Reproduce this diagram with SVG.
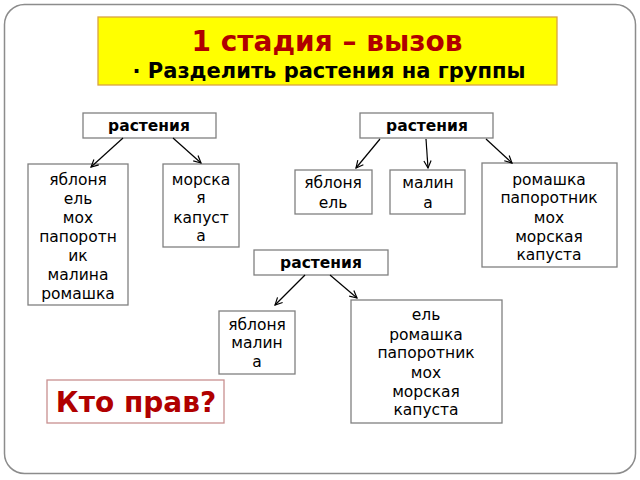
<svg xmlns="http://www.w3.org/2000/svg" width="640" height="480" viewBox="0 0 640 480">
<style>
.box{fill:#fff;stroke:#808080;stroke-width:1.3}
.t{font-family:"DejaVu Sans",sans-serif;font-size:15.5px;fill:#000;text-anchor:middle}
.h{font-family:"DejaVu Sans",sans-serif;font-size:15.5px;font-weight:bold;fill:#000;text-anchor:middle}
.c line{stroke:#000;stroke-width:1.2;marker-end:url(#a)}
</style>
<defs>
<marker id="a" viewBox="0 0 10 10" refX="9" refY="5" markerWidth="9" markerHeight="9" orient="auto" markerUnits="userSpaceOnUse">
<path d="M1,1 L9,5 L1,9" fill="none" stroke="#000" stroke-width="1.3"/>
</marker>
</defs>
<rect x="0" y="0" width="640" height="480" fill="#fff"/>
<rect x="4.5" y="4.5" width="631" height="469" rx="20" fill="none" stroke="#8c8c8c" stroke-width="1.5"/>
<g id="title">
<rect x="98" y="17" width="459" height="68" fill="#ffff00" stroke="#d9a441" stroke-width="1.3"/>
<text x="327" y="51" font-family="DejaVu Sans,sans-serif" font-size="28" font-weight="bold" fill="#b00000" text-anchor="middle">1 стадия – вызов</text>
<text x="329" y="78" font-family="DejaVu Sans,sans-serif" font-size="21" font-weight="bold" fill="#000" text-anchor="middle">· Разделить растения на группы</text>
</g>
<g id="r1"><rect class="box" x="83" y="113" width="133" height="25"/><text class="h" x="149" y="131">растения</text></g>
<g id="r2"><rect class="box" x="360" y="113" width="133" height="25"/><text class="h" x="427" y="131">растения</text></g>
<g id="r3"><rect class="box" x="254" y="250" width="134" height="25"/><text class="h" x="321" y="268">растения</text></g>
<g id="n1"><rect class="box" x="28" y="164" width="100" height="141"/>
<text class="t"><tspan x="78" y="185">яблоня</tspan><tspan x="78" y="204">ель</tspan><tspan x="78" y="223">мох</tspan><tspan x="78" y="242">папоротн</tspan><tspan x="78" y="261">ик</tspan><tspan x="78" y="280">малина</tspan><tspan x="78" y="299">ромашка</tspan></text></g>
<g id="n2"><rect class="box" x="163" y="164" width="76" height="83"/>
<text class="t"><tspan x="201" y="185">морска</tspan><tspan x="201" y="203">я</tspan><tspan x="201" y="223">капуст</tspan><tspan x="201" y="241">а</tspan></text></g>
<g id="n3"><rect class="box" x="295" y="170" width="77" height="44"/>
<text class="t"><tspan x="333" y="188">яблоня</tspan><tspan x="333" y="208">ель</tspan></text></g>
<g id="n4"><rect class="box" x="390" y="170" width="75" height="44"/>
<text class="t"><tspan x="428" y="188">малин</tspan><tspan x="428" y="208">а</tspan></text></g>
<g id="n5"><rect class="box" x="482" y="163" width="135" height="104"/>
<text class="t"><tspan x="549" y="185">ромашка</tspan><tspan x="549" y="203">папоротник</tspan><tspan x="549" y="223">мох</tspan><tspan x="549" y="242">морская</tspan><tspan x="549" y="260">капуста</tspan></text></g>
<g id="n6"><rect class="box" x="219" y="311" width="76" height="63"/>
<text class="t"><tspan x="257" y="330">яблоня</tspan><tspan x="257" y="348">малин</tspan><tspan x="257" y="367">а</tspan></text></g>
<g id="n7"><rect class="box" x="351" y="300" width="151" height="123"/>
<text class="t"><tspan x="426" y="320">ель</tspan><tspan x="426" y="340">ромашка</tspan><tspan x="426" y="358">папоротник</tspan><tspan x="426" y="378">мох</tspan><tspan x="426" y="397">морская</tspan><tspan x="426" y="415">капуста</tspan></text></g>
<g id="q"><rect x="47" y="380" width="177" height="43" fill="#fff" stroke="#c89090" stroke-width="1.3"/>
<text x="136" y="412" font-family="DejaVu Sans,sans-serif" font-size="28" font-weight="bold" fill="#b00000" text-anchor="middle">Кто прав?</text></g>
<g class="c">
<line x1="123" y1="138" x2="91" y2="167"/>
<line x1="173" y1="138" x2="201" y2="163"/>
<line x1="380" y1="139" x2="356" y2="168"/>
<line x1="426" y1="139" x2="428" y2="168"/>
<line x1="486" y1="139" x2="512" y2="163"/>
<line x1="305" y1="275" x2="275" y2="305"/>
<line x1="330" y1="275" x2="357" y2="298"/>
</g>
</svg>
